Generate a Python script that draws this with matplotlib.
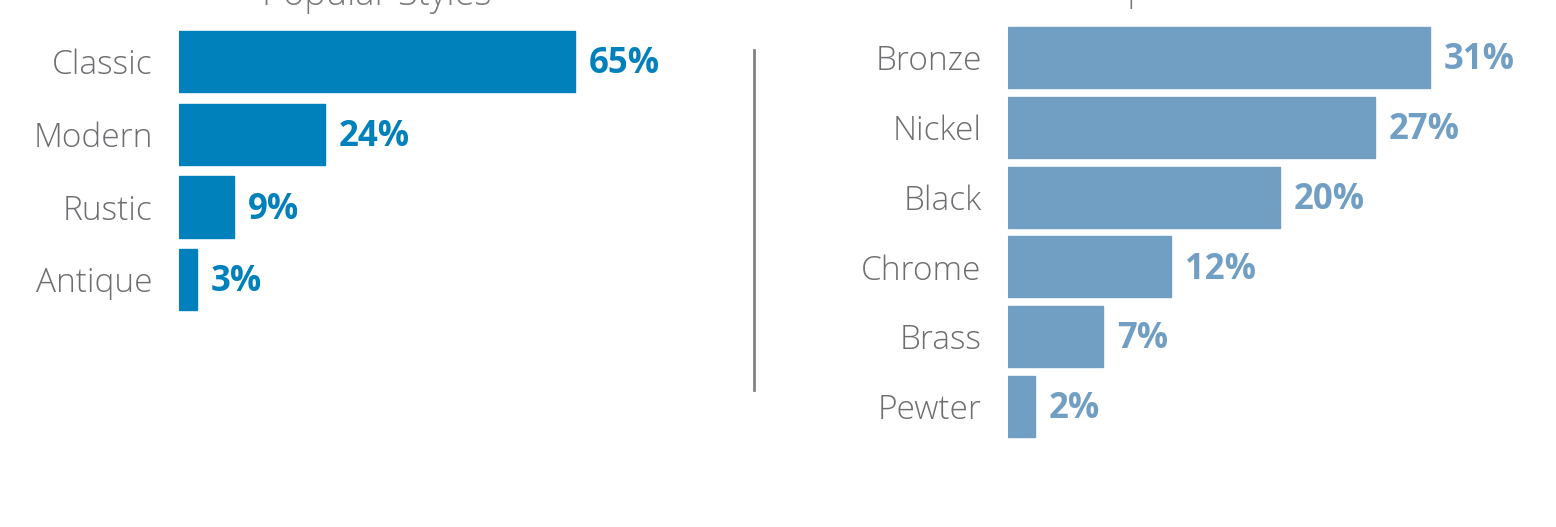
import matplotlib
matplotlib.use("Agg")
import matplotlib.pyplot as plt

plt.rcParams['font.family'] = ['Open Sans', 'DejaVu Sans']

styles = ['Classic', 'Modern', 'Rustic', 'Antique']
style_pct = [65, 24, 9, 3]

finishes = ['Bronze', 'Nickel', 'Black', 'Chrome', 'Brass', 'Pewter']
finish_pct = [31, 27, 20, 12, 7, 2]

W, H = 1556, 527
fig = plt.figure(figsize=(W / 100, H / 100), dpi=100)

label_grey = '#6d6e71'


def panel(left_px, right_px, xmax, cats, vals, color, top, bottom, height, title, title_y):
    ax = fig.add_axes([left_px / W, 0, (right_px - left_px) / W, 1])
    pos = list(range(len(cats)))
    ax.barh(pos, vals, height=height, color=color, edgecolor=color,
            linewidth=1, joinstyle='round')
    ax.set_xlim(0, xmax)
    ax.set_ylim(bottom, top)
    ax.set_yticks(pos)
    ax.set_yticklabels(cats, fontsize=24, color=label_grey, fontweight='light')
    ax.tick_params(axis='y', length=0, pad=19)
    ax.set_xticks([])
    for s in ax.spines.values():
        s.set_visible(False)
    for p, v in zip(pos, vals):
        ax.annotate(f'{v}%', (v, p), xytext=(10, -2), textcoords='offset points',
                    va='center', ha='left', fontsize=25, fontweight='bold', color=color)
    cx = (left_px + left_px + vals[0] * (right_px - left_px) / xmax) / 2
    fig.text(cx / W, 1 - title_y / H, title, ha='center', va='baseline',
             fontsize=26, color='#7a7a7a', fontweight='light')
    return ax


panel(179, 754, 94.4, styles, style_pct, '#0081bb', -0.846, 6.40, 0.84,
      'Popular Styles', 5)
panel(1008, 1556, 40.3, finishes, finish_pct, '#719fc4', -0.824, 6.726, 0.875,
      'Popular Finishes', 0)

# divider between the two panels
fig.add_artist(plt.Line2D([754 / W, 754 / W], [1 - 50 / H, 1 - 390 / H],
                          color='#808285', linewidth=2))

fig.savefig('out.png', dpi=100, facecolor='white')
